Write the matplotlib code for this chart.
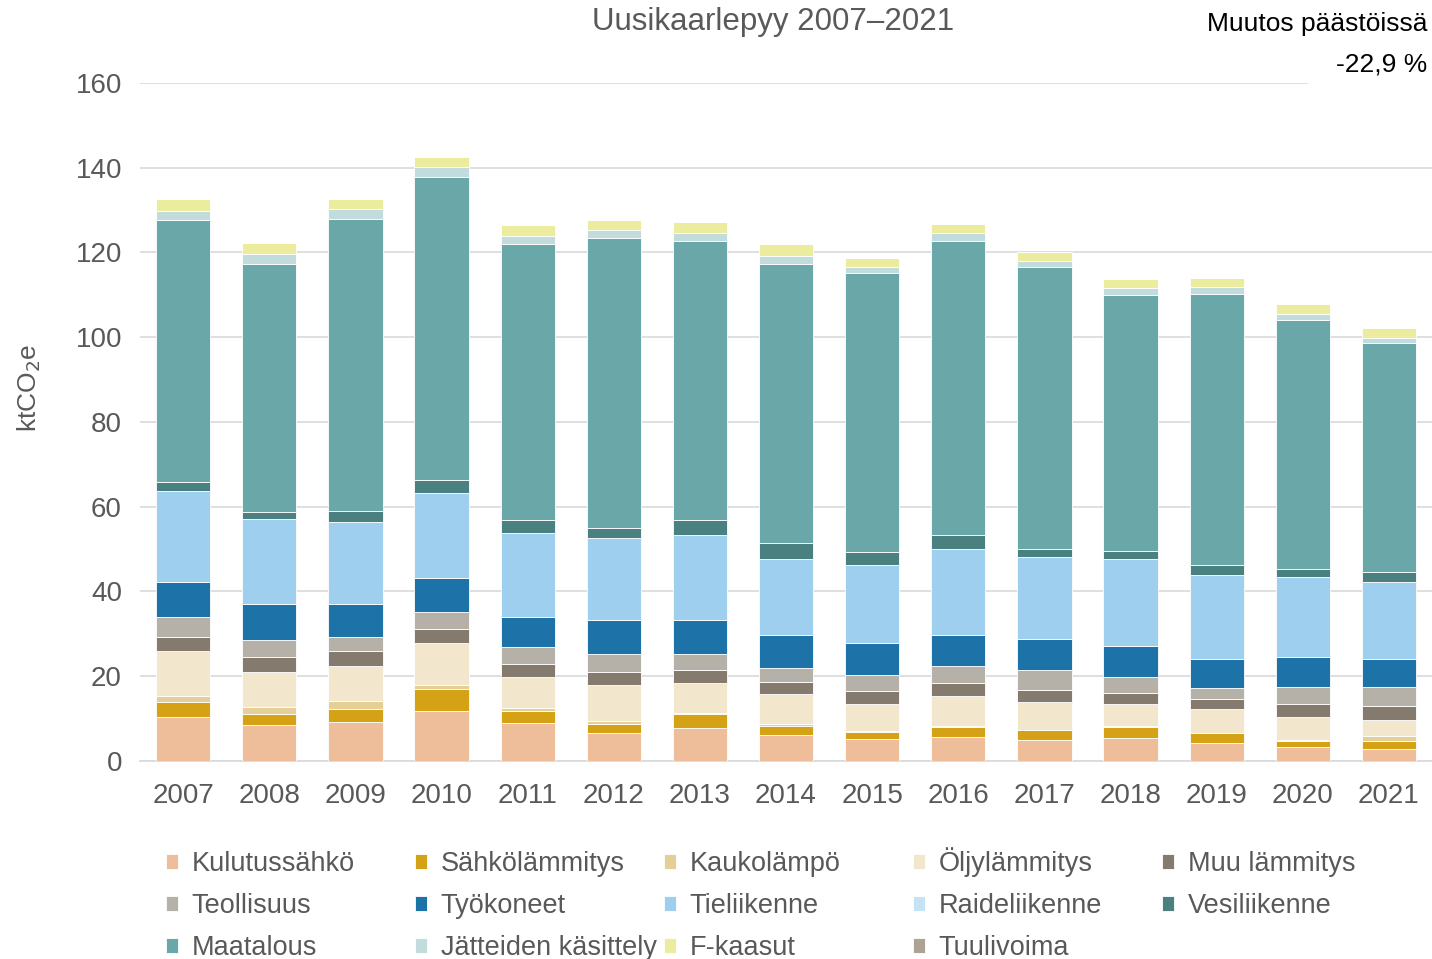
import matplotlib.pyplot as plt
import numpy as np

plt.rcParams['font.family'] = ['Liberation Sans', 'DejaVu Sans']

years = ['2007', '2008', '2009', '2010', '2011', '2012', '2013', '2014',
         '2015', '2016', '2017', '2018', '2019', '2020', '2021']

# ktCO2e per sector
kulutussahko = [10.3, 8.4, 9.2, 11.9, 8.9, 6.5, 7.7, 6.1, 5.1, 5.7, 5.0, 5.4, 4.3, 3.2, 2.8]
sahkolammitys = [3.5, 2.7, 3.1, 5.0, 3.0, 2.3, 3.4, 2.2, 1.8, 2.4, 2.3, 2.7, 2.2, 1.5, 1.9]
kaukolampo = [1.5, 1.6, 1.9, 1.0, 0.7, 0.6, 0.2, 0.4, 0.2, 0.2, 0.1, 0.1, 0.1, 0.3, 1.1]
oljylammitys = [10.7, 8.2, 8.3, 9.9, 7.3, 8.5, 7.0, 7.0, 6.3, 7.0, 6.4, 5.2, 5.6, 5.3, 3.9]
muu_lammitys = [3.3, 3.6, 3.5, 3.4, 3.0, 3.1, 3.1, 3.0, 3.0, 3.0, 3.0, 2.7, 2.4, 3.1, 3.3]
teollisuus = [4.6, 4.1, 3.3, 3.9, 3.9, 4.2, 3.8, 3.3, 3.8, 4.2, 4.6, 3.7, 2.6, 4.1, 4.5]
tyokoneet = [8.4, 8.5, 7.8, 8.0, 7.1, 8.0, 8.0, 7.8, 7.7, 7.3, 7.3, 7.3, 6.9, 7.0, 6.6]
tieliikenne = [21.3, 20.0, 19.2, 20.2, 19.8, 19.4, 20.1, 17.9, 18.3, 20.2, 19.4, 20.6, 19.8, 19.0, 18.2]
raideliikenne = [0, 0, 0, 0, 0, 0, 0, 0, 0, 0, 0, 0, 0, 0, 0]
vesiliikenne = [2.3, 1.7, 2.7, 3.0, 3.1, 2.3, 3.5, 3.8, 3.0, 3.3, 1.9, 1.9, 2.3, 1.9, 2.3]
maatalous = [61.8, 58.5, 69.0, 71.5, 65.1, 68.5, 65.8, 65.8, 65.9, 69.3, 66.5, 60.4, 63.9, 58.6, 54.0]
jatteet = [2.1, 2.3, 2.3, 2.3, 1.9, 1.9, 1.9, 1.9, 1.4, 1.9, 1.6, 1.5, 1.8, 1.5, 1.1]
f_kaasut = [2.7, 2.6, 2.2, 2.4, 2.6, 2.3, 2.7, 2.7, 2.3, 2.3, 1.9, 2.3, 2.0, 2.3, 2.4]
tuulivoima = [0, 0, 0, 0, 0, 0, 0, 0, 0, 0, 0, 0, 0, 0, 0]

sectors = [
    ('Kulutussähkö', kulutussahko, '#EEBE9B'),
    ('Sähkölämmitys', sahkolammitys, '#D5A216'),
    ('Kaukolämpö', kaukolampo, '#E6CE97'),
    ('Öljylämmitys', oljylammitys, '#F2E7CC'),
    ('Muu lämmitys', muu_lammitys, '#847B6E'),
    ('Teollisuus', teollisuus, '#B5B0A8'),
    ('Työkoneet', tyokoneet, '#1D72A8'),
    ('Tieliikenne', tieliikenne, '#9ECFEE'),
    ('Raideliikenne', raideliikenne, '#C5E3F5'),
    ('Vesiliikenne', vesiliikenne, '#4A807F'),
    ('Maatalous', maatalous, '#69A7A9'),
    ('Jätteiden käsittely', jatteet, '#C2DCDE'),
    ('F-kaasut', f_kaasut, '#ECEC9E'),
    ('Tuulivoima', tuulivoima, '#ADA394'),
]

fig = plt.figure(figsize=(14.32, 9.59), dpi=100)
ax = fig.add_axes([0.0978, 0.2065, 0.9022, 0.707])

x = np.arange(len(years))
bottom = np.zeros(len(years))
handles = []
for name, vals, col in sectors:
    vals = np.array(vals, dtype=float)
    b = ax.bar(x, vals, 0.63, bottom=bottom, color=col, edgecolor='white',
               linewidth=0.6, label=name, zorder=3)
    handles.append(b)
    bottom += vals

ax.set_xlim(-0.5, len(years) - 0.5)
ax.set_ylim(0, 160)
ax.set_yticks(range(0, 161, 20))
ax.set_xticks(x)
ax.set_xticklabels(years)
ax.grid(axis='y', color='#D9D9D9', linewidth=1.2, zorder=0)
ax.tick_params(axis='both', length=0, labelsize=20, colors='#595959')
ax.tick_params(axis='x', pad=16)
ax.tick_params(axis='y', pad=13)
for s in ['top', 'right', 'left']:
    ax.spines[s].set_visible(False)
ax.spines['bottom'].set_color('#D9D9D9')
ax.spines['bottom'].set_linewidth(1.2)

ax.set_ylabel('ktCO$_2$e', fontsize=19, color='#595959')
ax.yaxis.set_label_coords(-0.0755, 0.55)

# white patch hiding the end of the top gridline behind the change note
fig.patches.append(plt.Rectangle((1308 / 1432, 0.905), 1 - 1308 / 1432, 0.02,
                                 transform=fig.transFigure, color='white',
                                 zorder=1))

fig.text(0.54, 0.977, 'Uusikaarlepyy 2007\u20132021', ha='center', va='center',
         fontsize=22.5, color='#595959')
fig.text(0.997, 0.975, 'Muutos päästöissä', ha='right', va='center',
         fontsize=19, color='black', zorder=4)
fig.text(0.997, 0.933, '-22,9 %', ha='right', va='center', fontsize=19,
         color='black', zorder=4)

# Excel style legend: 5 fixed-width columns, rows read left to right
for i, (h, (name, vals, col)) in enumerate(zip(handles, sectors)):
    row, c = divmod(i, 5)
    leg = fig.legend([h], [name], loc='lower left',
                     bbox_to_anchor=((166 + 249 * c) / 1432,
                                     1 - (877 + 42 * row) / 959),
                     frameon=False, fontsize=19.5, handlelength=0.45,
                     handleheight=0.45, handletextpad=0.5,
                     borderpad=0, borderaxespad=0)
    leg.get_texts()[0].set_color('#595959')

fig.savefig('out.png', dpi=100)
